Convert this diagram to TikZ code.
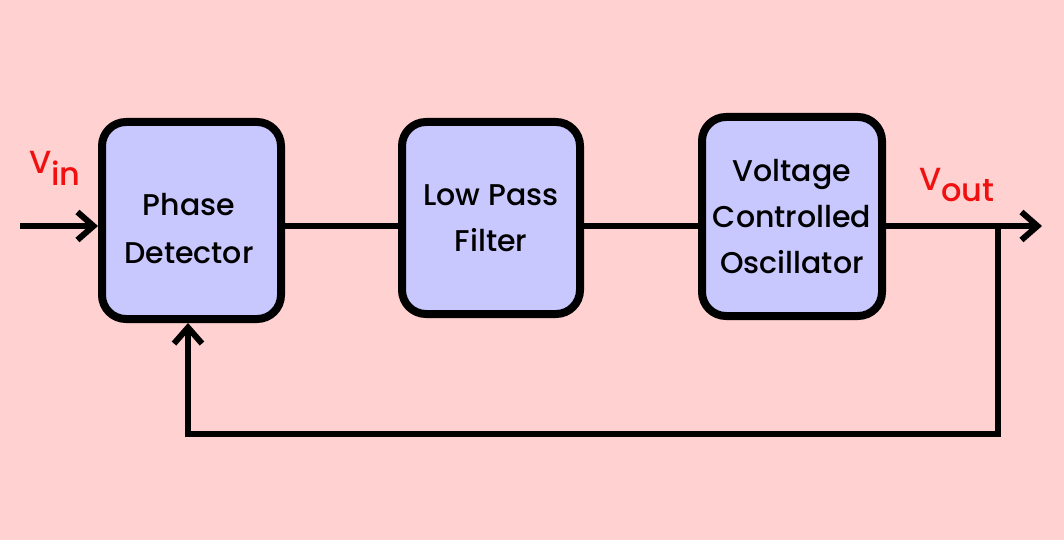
\documentclass[tikz,border=0pt]{standalone}
\usepackage{fontspec}
\setmainfont{Poppins}[UprightFont=* Medium]
\usetikzlibrary{arrows.meta}
\definecolor{bgpink}{HTML}{FFD1D1}
\definecolor{boxblue}{HTML}{C8C8FF}
\definecolor{lblred}{HTML}{F01010}
\begin{document}
\begin{tikzpicture}[x=1pt,y=-1pt,
  block/.style={draw=black, line width=8pt, fill=boxblue, rounded corners=24pt,
    align=center, font=\fontsize{30}{46}\selectfont, inner sep=0pt},
  wire/.style={line width=6pt},
  tip/.style={-{Straight Barb[length=16pt,width=28pt,line width=6pt]}},
  sig/.style={text=lblred, font=\fontsize{32}{32}\selectfont, inner sep=0pt}]
\fill[bgpink] (0,0) rectangle (1064,540);
\useasboundingbox (0,0) rectangle (1064,540);
\node[block, minimum width=179pt, minimum height=197pt] (pd) at (191.5,220.5) {};
\node[block, minimum width=178pt, minimum height=192pt] (lpf) at (491,218) {Low Pass\\Filter};
\node[block, minimum width=180pt, minimum height=199pt] (vco) at (792,216.5) {Voltage\\Controlled\\Oscillator};
\node[align=center, font=\fontsize{30}{48}\selectfont, inner sep=0pt] (pdtext) at (189,229) {Phase\\Detector};
\coordinate (src) at (20,226);
\coordinate (dst) at (1042,226);
\coordinate (tap) at (998,226);
\coordinate (fb) at (188,434);
\draw[wire, tip] (src) -- (pd.west |- src);
\draw[wire] (pd.east |- src) -- (lpf.west |- src);
\draw[wire] (lpf.east |- src) -- (vco.west |- src);
\draw[wire, tip] (vco.east |- src) -- (dst);
\draw[wire, tip] (tap) |- (fb) -- (fb |- pd.south);
\node[sig, anchor=base west] (vin) at (29,174) {V\raisebox{-11pt}{in}};
\node[sig, anchor=base west] (vout) at (919,190) {V\raisebox{-11pt}{out}};
\end{tikzpicture}
\end{document}
